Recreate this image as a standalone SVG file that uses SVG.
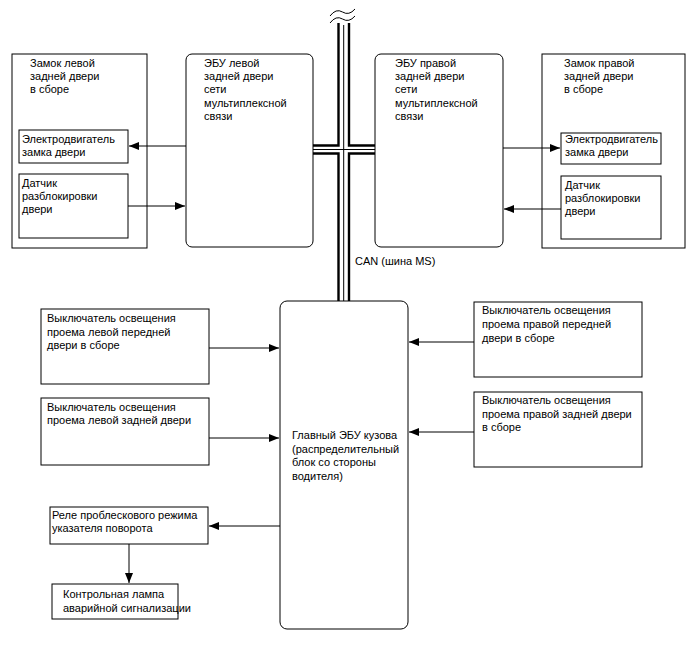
<svg xmlns="http://www.w3.org/2000/svg" width="688" height="658" viewBox="0 0 688 658">
<defs>
<style>
.box{fill:#fff;stroke:#000;stroke-width:1}
.t{font-family:"Liberation Sans",Arial,sans-serif;font-size:11px;fill:#000}
.c{stroke:#000;stroke-width:1;fill:none}
.bt{stroke:#000;stroke-width:2.4;fill:none}
.bn{stroke:#000;stroke-width:1;fill:none}
</style>
<marker id="ah" markerUnits="userSpaceOnUse" markerWidth="11" markerHeight="8" refX="10" refY="4" orient="auto">
<path d="M0,0 L10,4 L0,8 Z" fill="#000"/>
</marker>
</defs>
<rect width="688" height="658" fill="#fff"/>

<g id="bus">
<path class="bn" d="M330,16 Q336,8 342.5,12 T355,9"/>
<path class="bn" d="M330,23 Q336,15 342.5,19 T355,16"/>
<path class="bt" d="M338.5,23 V145.5 H313"/>
<path class="bt" d="M349,23 V145.5 H375"/>
<path class="bt" d="M313,153.5 H338.5 V301"/>
<path class="bt" d="M375,153.5 H349 V301"/>
<path class="bn" d="M343.7,25 V301"/>
<path class="bn" d="M313,149.5 H375"/>
</g>

<g id="lock_left">
<rect class="box" x="12" y="54" width="135" height="194"/>
<text class="t" x="30" y="67">Замок левой</text>
<text class="t" x="30" y="80">задней двери</text>
<text class="t" x="30" y="93">в сборе</text>
</g>
<g id="motor_left">
<rect class="box" x="19" y="130" width="109" height="33"/>
<text class="t" x="22" y="143">Электродвигатель</text>
<text class="t" x="22" y="156">замка двери</text>
</g>
<g id="sensor_left">
<rect class="box" x="19" y="174" width="109" height="64"/>
<text class="t" x="22" y="187">Датчик</text>
<text class="t" x="22" y="200">разблокировки</text>
<text class="t" x="22" y="213">двери</text>
</g>
<g id="ecu_left">
<rect class="box" x="186" y="54" width="127" height="193" rx="6"/>
<text class="t" x="204" y="67">ЭБУ левой</text>
<text class="t" x="204" y="80">задней двери</text>
<text class="t" x="204" y="93">сети</text>
<text class="t" x="204" y="107">мультиплексной</text>
<text class="t" x="204" y="120">связи</text>
</g>
<g id="ecu_right">
<rect class="box" x="375" y="54" width="128" height="193" rx="6"/>
<text class="t" x="395" y="67">ЭБУ правой</text>
<text class="t" x="395" y="80">задней двери</text>
<text class="t" x="395" y="93">сети</text>
<text class="t" x="395" y="107">мультиплексной</text>
<text class="t" x="395" y="120">связи</text>
</g>
<g id="lock_right">
<rect class="box" x="542" y="54" width="143" height="194"/>
<text class="t" x="564" y="67">Замок правой</text>
<text class="t" x="564" y="80">задней двери</text>
<text class="t" x="564" y="93">в сборе</text>
</g>
<g id="motor_right">
<rect class="box" x="561" y="133" width="100" height="31"/>
<text class="t" x="565" y="143">Электродвигатель</text>
<text class="t" x="565" y="156">замка двери</text>
</g>
<g id="sensor_right">
<rect class="box" x="561" y="176" width="100" height="63"/>
<text class="t" x="565" y="189">Датчик</text>
<text class="t" x="565" y="202">разблокировки</text>
<text class="t" x="565" y="215">двери</text>
</g>

<g id="can_label">
<text class="t" x="355" y="265">CAN (шина MS)</text>
</g>

<g id="main_ecu">
<rect class="box" x="280" y="301" width="128" height="328" rx="7"/>
<text class="t" x="292" y="439">Главный ЭБУ кузова</text>
<text class="t" x="292" y="453">(распределительный</text>
<text class="t" x="292" y="466">блок со стороны</text>
<text class="t" x="292" y="480">водителя)</text>
</g>

<g id="sw_lf">
<rect class="box" x="41" y="309" width="168" height="75"/>
<text class="t" x="47" y="322">Выключатель освещения</text>
<text class="t" x="47" y="336">проема левой передней</text>
<text class="t" x="47" y="349">двери в сборе</text>
</g>
<g id="sw_lr">
<rect class="box" x="41" y="398" width="168" height="67"/>
<text class="t" x="47" y="411">Выключатель освещения</text>
<text class="t" x="47" y="424">проема левой задней двери</text>
</g>
<g id="sw_rf">
<rect class="box" x="474" y="302" width="168" height="75"/>
<text class="t" x="482" y="314">Выключатель освещения</text>
<text class="t" x="482" y="328">проема правой передней</text>
<text class="t" x="482" y="342">двери в сборе</text>
</g>
<g id="sw_rr">
<rect class="box" x="474" y="392" width="168" height="75"/>
<text class="t" x="482" y="404">Выключатель освещения</text>
<text class="t" x="482" y="418">проема правой задней двери</text>
<text class="t" x="482" y="431">в сборе</text>
</g>
<g id="relay">
<rect class="box" x="50" y="507" width="158" height="37"/>
<text class="t" x="52" y="519">Реле проблескового режима</text>
<text class="t" x="52" y="532">указателя поворота</text>
</g>
<g id="lamp">
<rect class="box" x="52" y="584" width="126" height="35"/>
<text class="t" x="63" y="598">Контрольная лампа</text>
<text class="t" x="63" y="612">аварийной сигнализации</text>
</g>

<g id="connectors">
<line class="c" x1="186" y1="146" x2="129" y2="146" marker-end="url(#ah)"/>
<line class="c" x1="128" y1="206" x2="185" y2="206" marker-end="url(#ah)"/>
<line class="c" x1="503" y1="148" x2="560" y2="148" marker-end="url(#ah)"/>
<line class="c" x1="561" y1="209" x2="504" y2="209" marker-end="url(#ah)"/>
<line class="c" x1="209" y1="348" x2="279" y2="348" marker-end="url(#ah)"/>
<line class="c" x1="209" y1="438" x2="279" y2="438" marker-end="url(#ah)"/>
<line class="c" x1="474" y1="342" x2="409" y2="342" marker-end="url(#ah)"/>
<line class="c" x1="474" y1="432" x2="409" y2="432" marker-end="url(#ah)"/>
<line class="c" x1="280" y1="526" x2="209" y2="526" marker-end="url(#ah)"/>
<line class="c" x1="129" y1="544" x2="129" y2="583" marker-end="url(#ah)"/>
</g>
</svg>
